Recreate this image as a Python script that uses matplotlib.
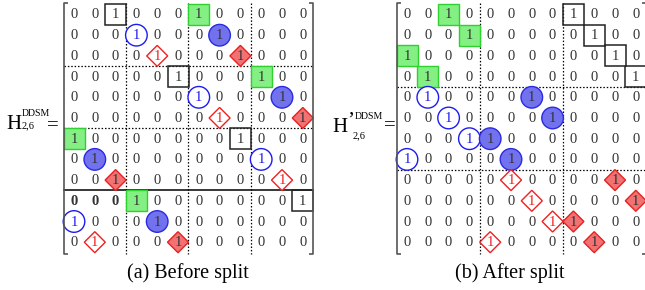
import matplotlib
matplotlib.use('Agg')
import matplotlib.pyplot as plt
from matplotlib.patches import Rectangle, Circle, Polygon

plt.rcParams['font.family'] = ['Liberation Serif', 'DejaVu Serif']

n = 12

# (row, col) of the marked ones in each matrix
left_green = [(0, 6), (3, 9), (6, 0), (9, 3)]
left_box = [(0, 2), (3, 5), (6, 8), (9, 11)]
left_open_circle = [(1, 3), (4, 6), (7, 9), (10, 0)]
left_fill_circle = [(1, 7), (4, 10), (7, 1), (10, 4)]
left_open_diamond = [(2, 4), (5, 7), (8, 10), (11, 1)]
left_fill_diamond = [(2, 8), (5, 11), (8, 2), (11, 5)]
left_vsep = [3, 6, 9]
left_hsep_dotted = [3, 6]
left_hsep_solid = [9]
left_bold = [(9, 0), (9, 1), (9, 2)]

right_green = [(0, 2), (1, 3), (2, 0), (3, 1)]
right_box = [(0, 8), (1, 9), (2, 10), (3, 11)]
right_open_circle = [(4, 1), (5, 2), (6, 3), (7, 0)]
right_fill_circle = [(4, 6), (5, 7), (6, 4), (7, 5)]
right_open_diamond = [(8, 5), (9, 6), (10, 7), (11, 4)]
right_fill_diamond = [(8, 10), (9, 11), (10, 8), (11, 9)]
right_vsep = [4, 8]
right_hsep_dotted = [4, 8]
right_hsep_solid = []
right_bold = []

captions = ['(a) Before split', '(b) After split']

# layout (pixels)
cw, rh = 20.8, 20.7
y0 = 14.5

fig = plt.figure(figsize=(6.45, 2.9), dpi=100)
ax = fig.add_axes([0, 0, 1, 1])
ax.set_xlim(0, 645)
ax.set_ylim(290, 0)
ax.axis('off')

txt = '#333333'


def draw_matrix(x0, green, box, oc, fc, od, fd, vsep, hdot, hsol, bold):
    X = lambda c: x0 + c * cw
    Y = lambda r: y0 + r * rh
    top, bot = Y(-0.5) - 1, Y(n - 0.5) + 1.5
    lft, rgt = X(-0.5), X(n - 0.5)
    # brackets
    for xs, tick in ((lft, 4), (rgt, -4)):
        ax.plot([xs + tick, xs, xs, xs + tick], [top, top, bot, bot],
                color='#555555', lw=1.2, solid_capstyle='butt', zorder=5)
    # separators
    for c in vsep:
        ax.plot([X(c - 0.5)] * 2, [top, bot], color='black', lw=0.9,
                ls=(0, (1.2, 1.5)), zorder=1)
    for r in hdot:
        ax.plot([lft, rgt], [Y(r - 0.5)] * 2, color='black', lw=0.9,
                ls=(0, (1.2, 1.5)), zorder=1)
    for r in hsol:
        ax.plot([lft, rgt], [Y(r - 0.5)] * 2, color='black', lw=1.1, zorder=1)

    colors = {}
    for r, c in green:
        ax.add_patch(Rectangle((X(c) - 10.5, Y(r) - 10.5), 21, 21,
                               fc='#84f084', ec='#30d030', lw=1.0, zorder=2))
    for r, c in box:
        ax.add_patch(Rectangle((X(c) - 10.5, Y(r) - 10.5), 21, 21,
                               fc='none', ec='#222222', lw=1.1, zorder=2))
    for r, c in oc:
        ax.add_patch(Circle((X(c), Y(r)), 10.8, fc='white', ec='#1c1cf0',
                            lw=1.0, zorder=2))
        colors[(r, c)] = '#1c1cf0'
    for r, c in fc:
        ax.add_patch(Circle((X(c), Y(r)), 10.8, fc='#7272ee', ec='#2a2ae0',
                            lw=1.0, zorder=2))
    for r, c in od:
        d = 10.5
        ax.add_patch(Polygon([(X(c) - d, Y(r)), (X(c), Y(r) - d),
                              (X(c) + d, Y(r)), (X(c), Y(r) + d)],
                             closed=True, fc='white', ec='#f02020', lw=1.0,
                             zorder=2))
        colors[(r, c)] = '#f02020'
    for r, c in fd:
        d = 10.5
        ax.add_patch(Polygon([(X(c) - d, Y(r)), (X(c), Y(r) - d),
                              (X(c) + d, Y(r)), (X(c), Y(r) + d)],
                             closed=True, fc='#f07272', ec='#e82020', lw=1.0,
                             zorder=2))
    ones = set(green + box + oc + fc + od + fd)
    for r in range(n):
        for c in range(n):
            s = '1' if (r, c) in ones else '0'
            ax.text(X(c), Y(r) + 0.5, s, ha='center', va='center',
                    fontsize=10.5, color=colors.get((r, c), txt),
                    fontweight='bold' if (r, c) in bold else 'normal',
                    zorder=4)


draw_matrix(74, left_green, left_box, left_open_circle, left_fill_circle,
            left_open_diamond, left_fill_diamond, left_vsep,
            left_hsep_dotted, left_hsep_solid, left_bold)
draw_matrix(407, right_green, right_box, right_open_circle, right_fill_circle,
            right_open_diamond, right_fill_diamond, right_vsep,
            right_hsep_dotted, right_hsep_solid, right_bold)

# matrix names
ax.text(6, 129, 'H', fontsize=15, ha='left', va='baseline', color='black')
ax.text(22, 116, 'DDSM', fontsize=7, ha='left', va='baseline', color='black')
ax.text(22, 128, '2,6', fontsize=7.5, ha='left', va='baseline', color='black')
ax.text(47, 130, '=', fontsize=15, ha='left', va='baseline', color='black')

ax.text(332, 132, 'H', fontsize=15, ha='left', va='baseline', color='black')
ax.text(347, 126, '\u2019', fontsize=15, ha='left', va='baseline', color='black')
ax.text(355, 119, 'DDSM', fontsize=7, ha='left', va='baseline', color='black')
ax.text(353, 138, '2,6', fontsize=7.5, ha='left', va='baseline', color='black')
ax.text(384, 130, '=', fontsize=15, ha='left', va='baseline', color='black')

ax.text(188, 273, captions[0], fontsize=14.5, ha='center', va='center')
ax.text(510, 273, captions[1], fontsize=14.5, ha='center', va='center')

fig.savefig('out.png', dpi=100)
